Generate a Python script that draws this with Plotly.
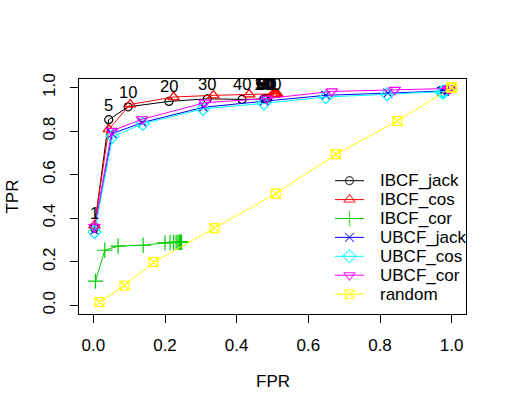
import plotly.graph_objects as go

n_labels = ["1", "5", "10", "20", "30", "40", "50", "60", "70", "80", "90", "100"]

series_names = ["IBCF_jack", "IBCF_cos", "IBCF_cor", "UBCF_jack", "UBCF_cos", "UBCF_cor", "random"]

ibcf_jack_fpr = [0.003, 0.043, 0.097, 0.211, 0.318, 0.415, 0.476, 0.479, 0.482, 0.484, 0.486, 0.487]
ibcf_jack_tpr = [0.355, 0.853, 0.912, 0.937, 0.949, 0.946, 0.948, 0.949, 0.949, 0.950, 0.950, 0.950]

ibcf_cos_fpr = [0.003, 0.043, 0.103, 0.224, 0.335, 0.435, 0.500, 0.505, 0.508, 0.510, 0.512, 0.513]
ibcf_cos_tpr = [0.367, 0.809, 0.923, 0.957, 0.965, 0.969, 0.969, 0.970, 0.970, 0.971, 0.972, 0.972]

ibcf_cor_fpr = [0.006, 0.032, 0.069, 0.139, 0.200, 0.214, 0.224, 0.231, 0.236, 0.240, 0.243, 0.246]
ibcf_cor_tpr = [0.111, 0.253, 0.272, 0.276, 0.287, 0.288, 0.289, 0.289, 0.290, 0.290, 0.290, 0.290]

ubcf_jack_fpr = [0.003, 0.053, 0.137, 0.307, 0.477, 0.649, 0.822, 0.972, 0.975, 0.977, 0.978, 0.979]
ubcf_jack_tpr = [0.343, 0.789, 0.840, 0.910, 0.938, 0.965, 0.975, 0.982, 0.983, 0.984, 0.984, 0.985]

ubcf_cos_fpr = [0.003, 0.054, 0.138, 0.306, 0.476, 0.649, 0.820, 0.973, 0.975, 0.977, 0.978, 0.979]
ubcf_cos_tpr = [0.337, 0.776, 0.834, 0.903, 0.928, 0.957, 0.970, 0.979, 0.980, 0.981, 0.981, 0.982]

ubcf_cor_fpr = [0.003, 0.052, 0.136, 0.311, 0.484, 0.665, 0.841, 0.990, 0.993, 0.995, 0.996, 0.997]
ubcf_cor_tpr = [0.360, 0.802, 0.855, 0.931, 0.950, 0.983, 0.990, 0.994, 0.995, 0.996, 0.996, 0.997]

random_fpr = [0.017, 0.087, 0.168, 0.338, 0.509, 0.677, 0.848, 1.0, 1.0, 1.0, 1.0, 1.0]
random_tpr = [0.015, 0.091, 0.198, 0.355, 0.513, 0.694, 0.847, 1.0, 1.0, 1.0, 1.0, 1.0]

tick_vals = [0.0, 0.2, 0.4, 0.6, 0.8, 1.0]
tick_text = ["0.0", "0.2", "0.4", "0.6", "0.8", "1.0"]

fprs = [ibcf_jack_fpr, ibcf_cos_fpr, ibcf_cor_fpr, ubcf_jack_fpr, ubcf_cos_fpr, ubcf_cor_fpr, random_fpr]
tprs = [ibcf_jack_tpr, ibcf_cos_tpr, ibcf_cor_tpr, ubcf_jack_tpr, ubcf_cos_tpr, ubcf_cor_tpr, random_tpr]
colors = ["#000000", "#FF0000", "#00CD00", "#0000FF", "#00FFFF", "#FF00FF", "#FFFF00"]
symbols = ["circle-open", "triangle-up-open", "cross-thin-open", "x-thin-open",
           "diamond-open", "triangle-down-open", "square-x-open"]
sizes = [8, 10, 11, 9, 10, 10, 9]

FONT = "Liberation Sans, Arial, sans-serif"
FS = 17

W, H = 507, 412
L, R, T, B = 79, 466, 79, 314   # pixels of the plot box

fig = go.Figure()
for name, fx, ty, c, s, sz in zip(series_names, fprs, tprs, colors, symbols, sizes):
    fig.add_trace(go.Scatter(
        x=fx, y=ty, name=name, mode="lines+markers", showlegend=False,
        line=dict(color=c, width=1),
        marker=dict(symbol=s, size=sz, color=c, line=dict(color=c, width=1.2)),
    ))

# manual legend drawn on an overlay axis in pixel units (bottom-right, no box)
leg_row0, leg_step = 180.7, 18.9
leg_x0, leg_x1, leg_mx, leg_tx = 335, 364, 349.5, 378
annotations = []
for i, (name, c, s, sz) in enumerate(zip(series_names, colors, symbols, sizes)):
    yy = leg_row0 + i * leg_step
    fig.add_trace(go.Scatter(
        x=[leg_x0, leg_mx, leg_x1], y=[yy, yy, yy], xaxis="x2", yaxis="y2",
        mode="lines+markers", showlegend=False, hoverinfo="skip",
        line=dict(color=c, width=1),
        marker=dict(symbol=s, size=[0, sz, 0], color=c, line=dict(color=c, width=1.2)),
    ))
    annotations.append(dict(x=leg_tx, y=yy, xref="x2", yref="y2", text=name, showarrow=False,
                            xanchor="left", yanchor="middle",
                            font=dict(family=FONT, size=FS, color="black")))

for lab, fx, ty in zip(n_labels, ibcf_jack_fpr, ibcf_jack_tpr):
    annotations.append(dict(x=fx, y=ty, text=lab, showarrow=False, yshift=15,
                            xref="x", yref="y", font=dict(family=FONT, size=16.5, color="black")))

annotations.append(dict(x=0.5, y=-0.288, xref="paper", yref="paper", text="FPR", showarrow=False,
                        xanchor="center", yanchor="middle",
                        font=dict(family=FONT, size=FS, color="black")))
annotations.append(dict(x=-0.173, y=0.5, xref="paper", yref="paper", text="TPR", showarrow=False,
                        xanchor="center", yanchor="middle",
                        textangle=-90, font=dict(family=FONT, size=FS, color="black")))

axis_common = dict(
    range=[-0.04, 1.04], showgrid=False, zeroline=False,
    showline=True, linecolor="black", linewidth=1, mirror=True,
    ticks="outside", ticklen=8, tickcolor="black", tickwidth=1,
    tickvals=tick_vals, ticktext=tick_text,
    tickfont=dict(family=FONT, size=FS, color="black"),
)

fig.update_layout(
    width=W, height=H,
    margin=dict(l=L, r=W - R, t=T, b=H - B, autoexpand=False),
    paper_bgcolor="white", plot_bgcolor="white",
    xaxis=dict(**axis_common, ticklabelstandoff=8),
    yaxis=dict(**axis_common, tickangle=-90, ticklabelstandoff=8),
    xaxis2=dict(overlaying="x", range=[L, R], visible=False, fixedrange=True),
    yaxis2=dict(overlaying="y", range=[B, T], visible=False, fixedrange=True),
    annotations=annotations,
    showlegend=False,
)

fig.write_html("out.html", config={"displayModeBar": False},
               post_script="document.body.style.margin='0';document.body.style.overflow='hidden';")
